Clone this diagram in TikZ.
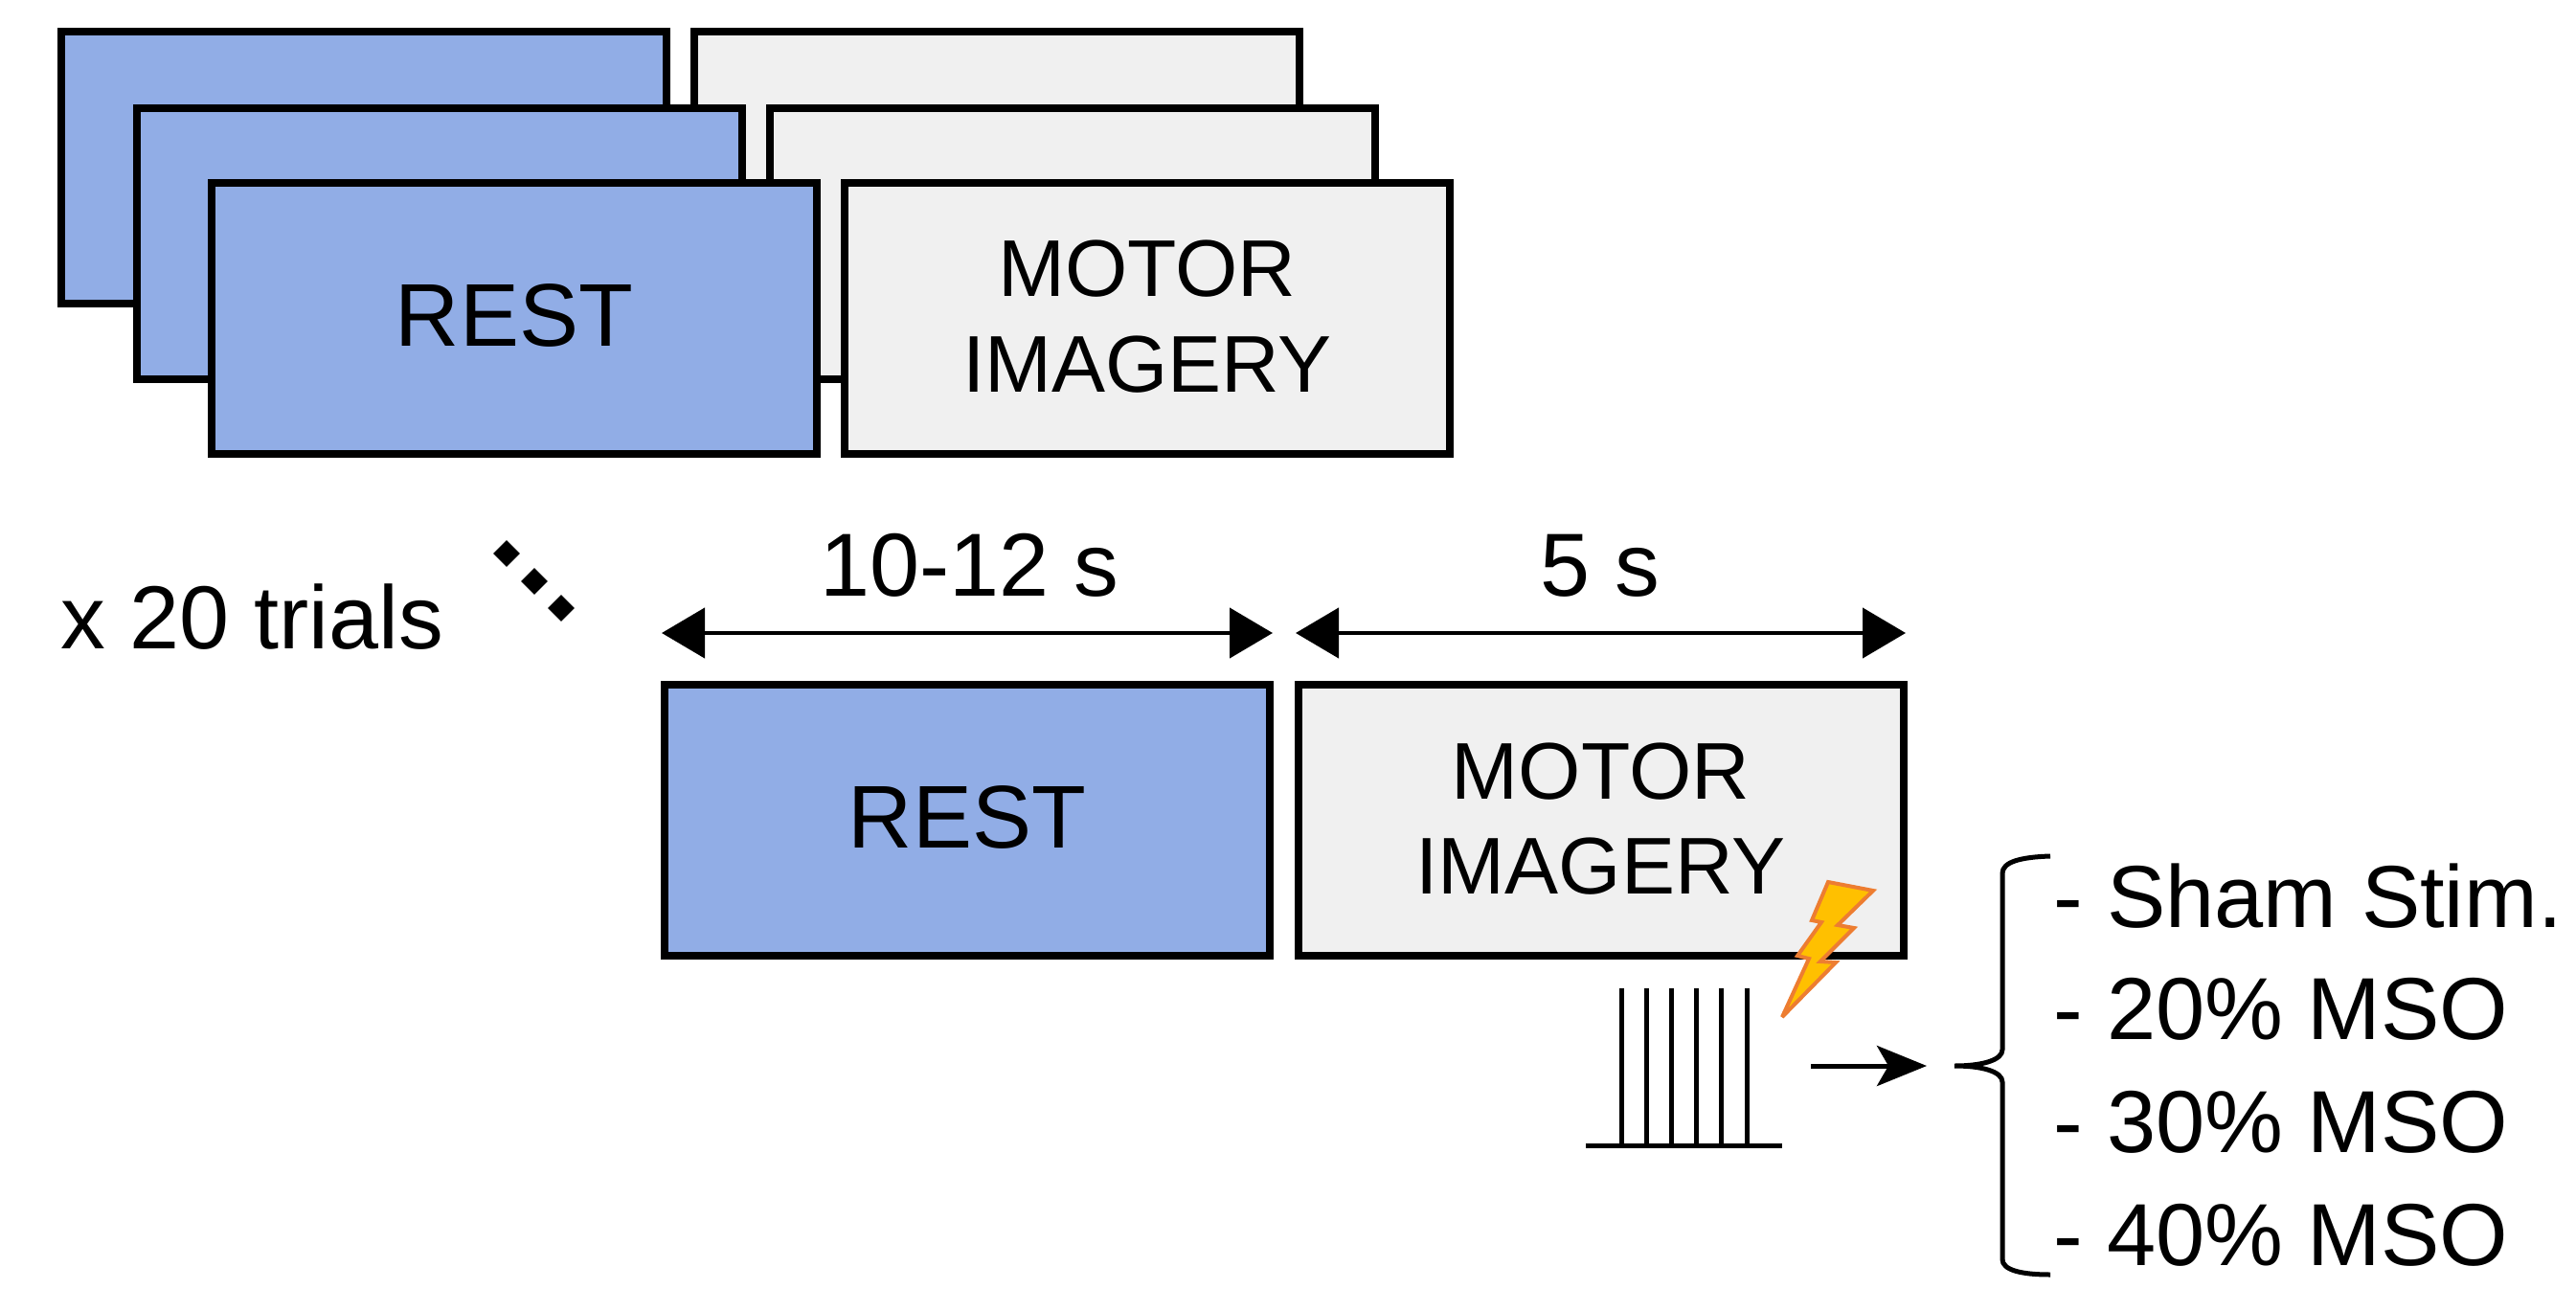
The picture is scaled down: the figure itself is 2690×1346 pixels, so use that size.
\documentclass[tikz,border=0pt]{standalone}
\usepackage{fontspec}
\setmainfont{Liberation Sans}
\usetikzlibrary{arrows.meta,shapes.geometric}
\definecolor{restblue}{HTML}{91ADE6}
\definecolor{motorgray}{HTML}{F0F0F0}
\definecolor{boltfill}{HTML}{FFC000}
\definecolor{boltline}{HTML}{ED7D31}
\tikzset{
  trialbox/.style={draw=black,line width=8pt,minimum width=632pt,minimum height=283pt,inner sep=0pt,outer sep=0pt,align=center},
  restbox/.style={trialbox,fill=restblue,text depth=6pt,font=\fontsize{93}{100}\selectfont},
  motorbox/.style={trialbox,fill=motorgray,text depth=4pt,font=\fontsize{84}{99.5}\selectfont},
  label/.style={inner sep=0pt,outer sep=0pt,font=\fontsize{92}{100}\selectfont},
  biglabel/.style={inner sep=0pt,outer sep=0pt,font=\fontsize{93.5}{100}\selectfont},
  span/.style={line width=4.5pt,{Triangle[length=45pt,width=52pt]}-{Triangle[length=45pt,width=52pt]}},
  dotmark/.style={diamond,fill=black,minimum width=28pt,minimum height=28pt,inner sep=0pt},
  pulse/.style={line width=5pt},
}
\begin{document}
\begin{tikzpicture}[x=1pt,y=-1pt]
\useasboundingbox (0,0) rectangle (2690,1346);
% stacked trials
\node[restbox]  (b3) at (380,175) {};
\node[motorbox] (m3) at (1041,175) {};
\node[restbox]  (b2) at (459,254) {};
\node[motorbox] (m2) at (1120,254) {};
\node[restbox]  (b1) at (537,332) {REST};
\node[motorbox] (m1) at (1198,332) {MOTOR\\IMAGERY};
% main trial
\node[restbox]  (rest) at (1010,856.5) {REST};
\node[motorbox] (motor) at (1671.5,856.5) {MOTOR\\IMAGERY};
% labels
\node[biglabel,anchor=base west] (trials) at (63,677) {x 20 trials};
\node[dotmark] (d1) at (529,578) {};
\node[dotmark] (d2) at (558,607) {};
\node[dotmark] (d3) at (586,635) {};
\node[biglabel,anchor=base] (t1) at (1012,622) {10-12 s};
\node[biglabel,anchor=base] (t2) at (1671,622) {5 s};
% time spans
\coordinate (s1a) at (691,661);
\coordinate (s1b) at (1329,661);
\coordinate (s2a) at (1353,661);
\coordinate (s2b) at (1990,661);
\draw[span] (s1a) -- (s1b);
\draw[span] (s2a) -- (s2b);
% pulses
\coordinate (pb1) at (1656,1196);
\coordinate (pb2) at (1861,1196);
\draw[pulse] (pb1) -- (pb2);
\foreach \x in {1693,1719,1745,1771,1797,1824}
  \draw[pulse] (\x,1032) -- (\x,1196);
% bolt
\draw[fill=boltfill,draw=boltline,line width=4pt,line join=miter,miter limit=4]
  (1909,921) -- (1956,930) -- (1919,966) -- (1936,969) -- (1901,1004) -- (1917,1005)
  -- (1861,1062) -- (1889,1001) -- (1877,998) -- (1902,963) -- (1892,961) -- cycle;
% arrow to brace
\coordinate (a1) at (1891,1113);
\coordinate (a2) at (2012,1113);
\draw[line width=5pt,-{Stealth[length=52pt,width=42pt,inset=12pt]}] (a1) -- (a2);
% brace
\draw[line width=5pt]
  (2141,894) .. controls (2110,895) and (2091,900) .. (2091,912)
  -- (2091,1096) .. controls (2091,1107) and (2070,1113) .. (2041,1113)
  .. controls (2070,1113) and (2091,1119) .. (2091,1130)
  -- (2091,1315) .. controls (2091,1326) and (2110,1331) .. (2141,1331);
% list
\node[label,anchor=base west] (l1) at (2144,968) {- Sham Stim.};
\node[label,anchor=base west] (l2) at (2144,1085) {- 20\% MSO};
\node[label,anchor=base west] (l3) at (2144,1203) {- 30\% MSO};
\node[label,anchor=base west] (l4) at (2144,1321) {- 40\% MSO};
\end{tikzpicture}
\end{document}
